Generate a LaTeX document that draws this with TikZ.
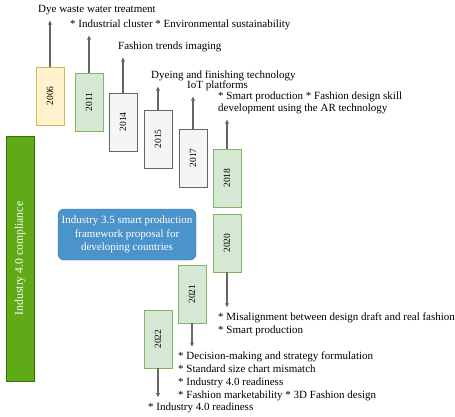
\documentclass[tikz,border=0pt]{standalone}
\usepackage{fontspec}
\setmainfont{Liberation Serif}
\usepackage{tikz}
\usetikzlibrary{positioning,arrows.meta}

\definecolor{yelfill}{HTML}{FFF2CC}
\definecolor{yeldraw}{HTML}{D6B656}
\definecolor{grnfill}{HTML}{D5E8D4}
\definecolor{grndraw}{HTML}{82B366}
\definecolor{gryfill}{HTML}{F5F5F5}
\definecolor{grydraw}{HTML}{666666}
\definecolor{barfill}{HTML}{60A917}
\definecolor{bardraw}{HTML}{2D7600}
\definecolor{bluefill}{HTML}{4A93CB}
\definecolor{bluedraw}{HTML}{3470A6}

\begin{document}
\begin{tikzpicture}[x=1pt,y=-1pt]
    \tikzset{year node/.style = {draw, minimum width=28pt, minimum height=58pt, inner sep=0pt, font=\fontsize{9.5}{11}\selectfont},
             yellow node/.style = {year node, fill=yelfill, draw=yeldraw},
             green node/.style = {year node, fill=grnfill, draw=grndraw},
             gray node/.style = {year node, fill=gryfill, draw=grydraw},
             note node/.style = {anchor=base west, inner sep=1pt, align=left, font=\fontsize{11}{12.8}\selectfont},
             time arrow/.style = {draw=black!60, line width=1.1pt, -{Triangle[length=4pt,width=3.5pt]}, shorten >=4pt}}
    \useasboundingbox (0,0) rectangle (455,417);
    %% year boxes
    \node[yellow node] (y2006) at (50,96)  {\rotatebox{90}{2006}};
    \node[green node]  (y2011) at (89,102) {\rotatebox{90}{2011}};
    \node[gray node]   (y2014) at (123,122) {\rotatebox{90}{2014}};
    \node[gray node]   (y2015) at (158,139) {\rotatebox{90}{2015}};
    \node[gray node]   (y2017) at (193,158) {\rotatebox{90}{2017}};
    \node[green node]  (y2018) at (227,178) {\rotatebox{90}{2018}};
    \node[green node]  (y2020) at (227,243) {\rotatebox{90}{2020}};
    \node[green node]  (y2021) at (192,294) {\rotatebox{90}{2021}};
    \node[green node]  (y2022) at (158,339) {\rotatebox{90}{2022}};
    %% notes (multi-line ones sit on their last line)
    \node[note node] (l2006) at (37,13)  {Dye waste water treatment};
    \node[note node] (l2011) at (69,28)  {* Industrial cluster * Environmental sustainability};
    \node[note node] (l2014) at (117,50) {Fashion trends imaging};
    \node[note node] (l2015) at (150,79) {Dyeing and finishing technology};
    \node[note node] (l2017) at (186,89) {IoT platforms};
    \node[note node] (l2018) at (217,112) {* Smart production * Fashion design skill\\development using the AR technology};
    \node[note node] (l2020) at (217,333) {* Misalignment between design draft and real fashion\\* Smart production};
    \node[note node] (l2021) at (177,398) {* Decision-making and strategy formulation\\* Standard size chart mismatch\\* Industry 4.0 readiness\\* Fashion marketability * 3D Fashion design};
    \node[note node] (l2022) at (147,410) {* Industry 4.0 readiness};
    %% side boxes
    \node[draw=bardraw, fill=barfill, minimum width=28pt, minimum height=245pt, inner sep=0pt, text=white, font=\fontsize{11.7}{14}\selectfont] (comply) at (20,258.5) {\rotatebox{90}{Industry 4.0 compliance}};
    \node[draw=bluedraw, fill=bluefill, rounded corners=6pt, minimum width=138pt, minimum height=51pt, text=white, align=center, font=\fontsize{11}{13.5}\selectfont] (frame) at (127,234.5) {Industry 3.5 smart production\\framework proposal for\\developing countries};
    %% arrows
    \foreach \yr in {2006,2011,2014,2015,2017,2018}
        \draw[time arrow] (y\yr.north) -- (y\yr.north |- l\yr.south);
    \foreach \yr in {2020,2021,2022}
        \draw[time arrow] (y\yr.south) -- (y\yr.south |- l\yr.north);
\end{tikzpicture}
\end{document}
